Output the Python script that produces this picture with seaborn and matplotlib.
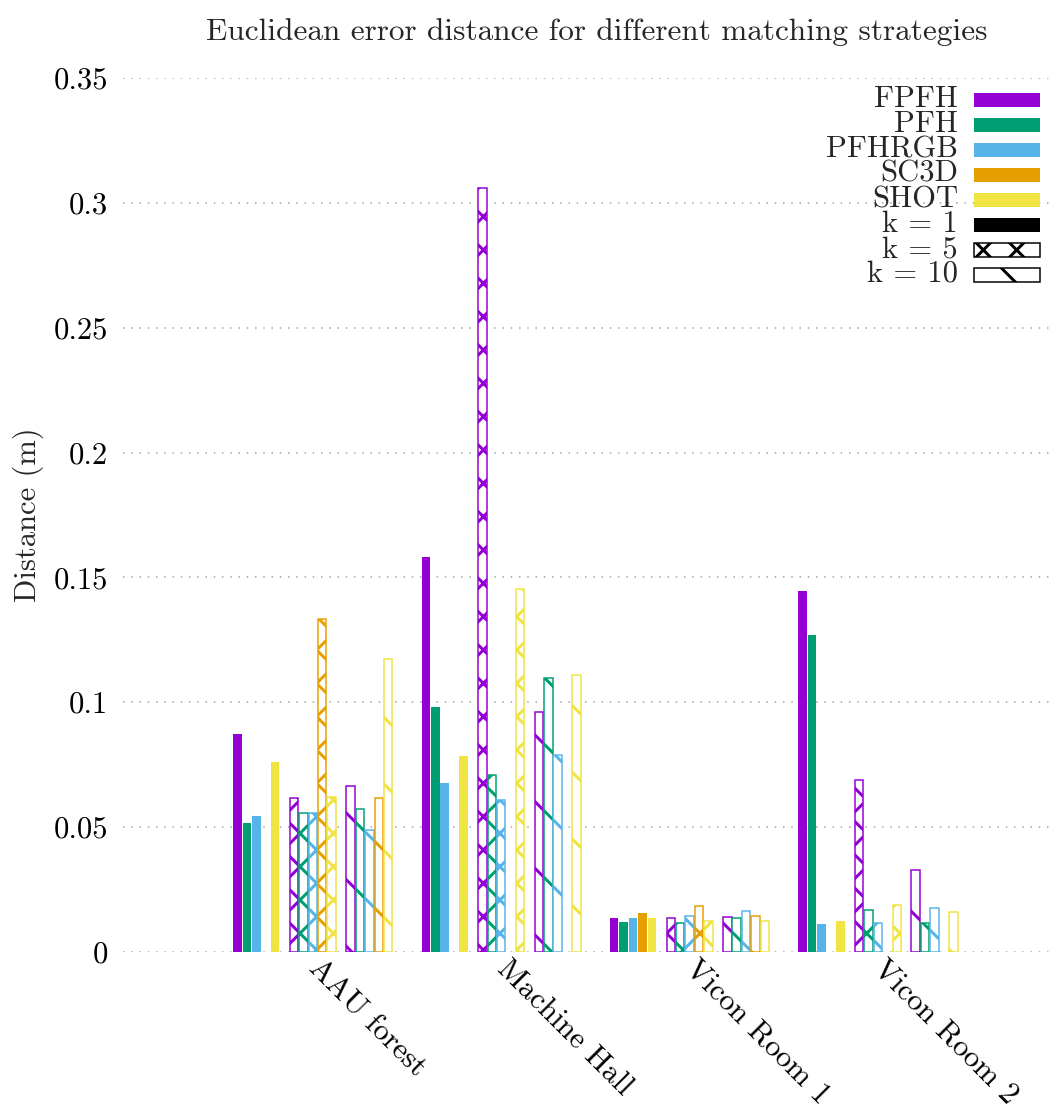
import numpy as np
import pandas as pd
import matplotlib
matplotlib.use("Agg")
import matplotlib.pyplot as plt
from matplotlib.patches import Rectangle
import seaborn as sns

# ---- data -------------------------------------------------------------
scenes = ["AAU forest", "Machine Hall", "Vicon Room 1", "Vicon Room 2"]
descriptors = ["FPFH", "PFH", "PFHRGB", "SC3D", "SHOT"]
k_values = [1, 5, 10]
nan = np.nan

# rows: descriptor, columns: scene  (Euclidean error distance in metres)
err_k1 = [
    [0.0872, 0.1583, 0.0137, 0.1446],
    [0.0517, 0.0981, 0.0121, 0.1271],
    [0.0545, 0.0676, 0.0137, 0.0113],
    [nan,    nan,    0.0155, nan],
    [0.0761, 0.0785, 0.0137, 0.0124],
]
err_k5 = [
    [0.0615, 0.3058, 0.0136, 0.0689],
    [0.0555, 0.0709, 0.0117, 0.0167],
    [0.0555, 0.0608, 0.0143, 0.0116],
    [0.1332, nan,    0.0186, nan],
    [0.0622, 0.1453, 0.0126, 0.0190],
]
err_k10 = [
    [0.0665, 0.0963, 0.0142, 0.0328],
    [0.0573, 0.1098, 0.0137, 0.0116],
    [0.0487, 0.0787, 0.0166, 0.0178],
    [0.0615, nan,    0.0144, nan],
    [0.1173, 0.1110, 0.0123, 0.0160],
]
yticks = [0, 0.05, 0.1, 0.15, 0.2, 0.25, 0.3, 0.35]
ytick_labels = ["0", "0.05", "0.1", "0.15", "0.2", "0.25", "0.3", "0.35"]

colors = ["#9400D3", "#009E73", "#56B4E9", "#E69F00", "#F0E442"]
k_hatch = ["", "xx", "\\"]

# ---- layout helpers ---------------------------------------------------
W, H, DPI = 1057, 1109, 200
def pt(px):
    return px * 72.0 / DPI

SLOTS_PER_SCENE = 20
SLOTS_PER_K = 6

rows = []
for ki, table in enumerate([err_k1, err_k5, err_k10]):
    for di, desc in enumerate(descriptors):
        for si, scene in enumerate(scenes):
            v = table[di][si]
            if np.isnan(v):
                continue
            slot = si * SLOTS_PER_SCENE + ki * SLOTS_PER_K + di
            rows.append({"slot": slot + 0.5, "error": v, "descriptor": desc,
                         "k": k_values[ki], "scene": scene})
df = pd.DataFrame(rows)

# ---- style ------------------------------------------------------------
sns.set_theme(style="white")
plt.rcParams["font.family"] = ["cmr10", "DejaVu Serif"]
plt.rcParams["mathtext.fontset"] = "cm"
plt.rcParams["axes.unicode_minus"] = False
plt.rcParams["hatch.linewidth"] = pt(3.0)
FS = pt(30.6)

fig = plt.figure(figsize=(W / DPI, H / DPI), dpi=DPI)
ax = fig.add_axes([123 / W, 1 - 952 / H, (1052 - 123) / W, (952 - 78) / H])

sns.barplot(data=df, x="slot", y="error", hue="descriptor",
            hue_order=descriptors, palette=dict(zip(descriptors, colors)),
            saturation=1, native_scale=True, dodge=False, width=0.9,
            errorbar=None, legend=False, ax=ax)

# k = 1 solid, k = 5 crosshatch, k = 10 diagonal stripes
for p in ax.patches:
    c = p.get_facecolor()
    centre = p.get_x() + p.get_width() / 2
    slot = int(round(centre - 0.5))
    ki = (slot % SLOTS_PER_SCENE) // SLOTS_PER_K
    if ki == 0:
        p.set_edgecolor(c)
        p.set_linewidth(0)
    else:
        p.set_facecolor("white")
        p.set_edgecolor(c)
        p.set_linewidth(pt(1.5))
        p.set_hatch(k_hatch[ki])

ax.set_xlim(-11.65, 86.97)
ax.set_ylim(0, 0.35)
ax.set_yticks(yticks)
ax.set_yticklabels(ytick_labels, fontsize=FS)
ax.set_xticks([si * SLOTS_PER_SCENE + 7.9 for si in range(len(scenes))])
ax.set_xticklabels(scenes, fontsize=FS)
plt.setp(ax.get_xticklabels(), rotation=-45, ha="left", va="baseline",
         rotation_mode="anchor")
ax.tick_params(axis="y", length=0, pad=pt(15), colors="black")
ax.tick_params(axis="x", length=0, pad=pt(18), colors="black")
ax.set_xlabel("")
ax.set_ylabel("")
for s in ax.spines.values():
    s.set_visible(False)
ax.set_axisbelow(True)
ax.yaxis.grid(True, color="#a0a0a0", linestyle=(0, (1, 4.5)), linewidth=pt(1.5))
ax.xaxis.grid(False)

fig.text(597 / W, 1 - 32 / H,
         "Euclidean error distance for different matching strategies",
         ha="center", va="center", fontsize=pt(31.3))
fig.text(28 / W, 1 - 515 / H, "Distance (m)", rotation=90,
         ha="center", va="center", fontsize=FS)

# ---- key --------------------------------------------------------------
key_labels = descriptors + ["k = 1", "k = 5", "k = 10"]
key_face = colors + ["black", "white", "white"]
key_hatch = [""] * 5 + ["", "xx", "\\"]
for i, (lab, fc, ht) in enumerate(zip(key_labels, key_face, key_hatch)):
    yc = 100 + 25 * i
    fig.text(958 / W, 1 - (yc + 7) / H, lab, ha="right", va="baseline",
             fontsize=FS)
    edge = fc if ht == "" else "black"
    r = Rectangle((974 / W, 1 - (yc + 7) / H), 66 / W, 14 / H,
                  transform=fig.transFigure, facecolor=fc, edgecolor=edge,
                  linewidth=pt(1.5) if ht else 0, hatch=ht or None)
    fig.patches.append(r)

fig.savefig("out.png", dpi=DPI)
